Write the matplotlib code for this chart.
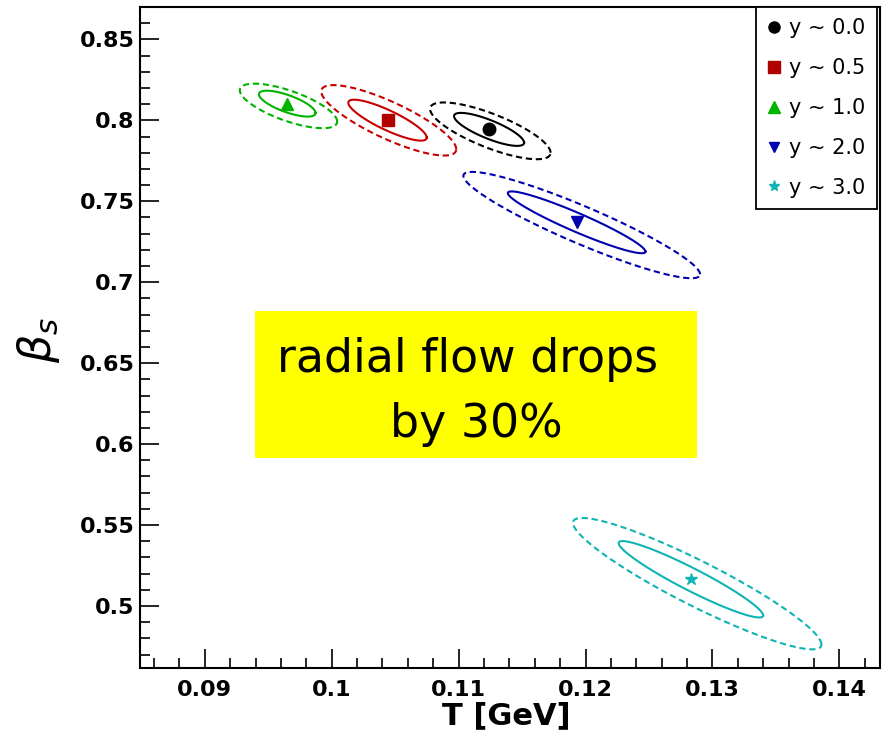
import numpy as np
import matplotlib.pyplot as plt
from matplotlib.lines import Line2D
from matplotlib.patches import Rectangle
from matplotlib.ticker import MultipleLocator, FuncFormatter

# blast-wave fit results per rapidity bin: best fit point and contour shape
rap_labels = ['y ~ 0.0', 'y ~ 0.5', 'y ~ 1.0', 'y ~ 2.0', 'y ~ 3.0']
T_fit = [0.1124, 0.1044, 0.0965, 0.1193, 0.1283]
beta_fit = [0.7944, 0.8001, 0.8103, 0.7370, 0.5165]
sig_T = [0.00276, 0.00309, 0.00223, 0.00542, 0.00569]
sig_beta = [0.0102, 0.01265, 0.0080, 0.0191, 0.0236]
rho_inner = [-0.80, -0.85, -0.72, -0.945, -0.945]
rho_outer = [-0.77, -0.82, -0.70, -0.925, -0.925]
# outer contour is slightly off-centre (non-gaussian chi2 surface)
dT_outer = [0.0001, 0.0001, 0.0001, 0.0004, 0.0005]
dbeta_outer = [-0.0009, -0.0001, -0.0014, -0.0017, -0.0027]
outer_scale = 1.72

line_colors = ['#000000', '#c80000', '#00b400', '#0000b0', '#10b4b4']
mark_colors = ['#000000', '#b00000', '#00b400', '#0000b0', '#10b4b4']
markers = ['o', 's', '^', 'v', '*']
msizes = [9, 9, 9, 8, 9]


def contour(i, k, r, dx=0.0, dy=0.0):
    t = np.linspace(0, 2 * np.pi, 300)
    x = T_fit[i] + dx + k * sig_T[i] * np.cos(t)
    y = beta_fit[i] + dy + k * sig_beta[i] * (r * np.cos(t) + np.sqrt(1 - r ** 2) * np.sin(t))
    return x, y


fig = plt.figure(figsize=(8.85, 7.4), dpi=100)
ax = fig.add_axes([140 / 885, 1 - 668 / 740, 740 / 885, 661 / 740])

for i in range(len(rap_labels)):
    xi, yi = contour(i, 1.0, rho_inner[i])
    ax.plot(xi, yi, color=line_colors[i], lw=1.5)
    xo, yo = contour(i, outer_scale, rho_outer[i], dT_outer[i], dbeta_outer[i])
    ax.plot(xo, yo, color=line_colors[i], lw=1.5, dashes=(3, 1.8))
    ax.plot(T_fit[i], beta_fit[i], marker=markers[i], ms=msizes[i],
            color=mark_colors[i], ls='none', zorder=5)

ax.set_xlim(0.0849, 0.1432)
ax.set_ylim(0.4617, 0.870)

ax.xaxis.set_major_locator(MultipleLocator(0.01))
ax.xaxis.set_minor_locator(MultipleLocator(0.002))
ax.yaxis.set_major_locator(MultipleLocator(0.05))
ax.yaxis.set_minor_locator(MultipleLocator(0.01))
fmt = FuncFormatter(lambda v, p: f'{v:g}')
ax.xaxis.set_major_formatter(fmt)
ax.yaxis.set_major_formatter(fmt)

ax.tick_params(which='both', direction='in', top=False, right=False, width=1.2)
ax.tick_params(which='major', length=14)
ax.tick_params(which='minor', length=7.5)
ax.tick_params(axis='x', pad=9)
ax.tick_params(axis='y', pad=4)
for lab in ax.get_xticklabels() + ax.get_yticklabels():
    lab.set_fontsize(16)
    lab.set_fontweight('bold')
for sp in ax.spines.values():
    sp.set_linewidth(1.5)

fig.text(506 / 885, 1 - 716 / 740, 'T [GeV]', fontsize=22, fontweight='bold',
         ha='center', va='center')
fig.text(38 / 885, 1 - 340 / 740, r'$\beta_s$', fontsize=32, rotation=90,
         ha='center', va='center')

# legend with marker-only entries
handles = [Line2D([], [], marker=markers[i], ms=msizes[i] - 1, color=mark_colors[i], ls='none')
           for i in range(len(rap_labels))]
leg = ax.legend(handles, rap_labels, loc='upper right',
                bbox_to_anchor=(877 / 885, 1 - 7 / 740), bbox_transform=fig.transFigure,
                fontsize=15, frameon=True, fancybox=False, framealpha=1,
                edgecolor='black', borderpad=0.55, labelspacing=0.95,
                handlelength=0.6, handletextpad=0.45, borderaxespad=0, numpoints=1)
leg.get_frame().set_linewidth(1.3)

# highlighted annotation box
fig.patches.append(Rectangle((255 / 885, 1 - 458 / 740), 442 / 885, 147 / 740,
                             transform=fig.transFigure, facecolor='#ffff00',
                             edgecolor='none', zorder=3))
fig.text(468 / 885, 1 - 372 / 740, 'radial flow drops', fontsize=33,
         ha='center', va='baseline', zorder=4)
fig.text(476 / 885, 1 - 437 / 740, 'by 30%', fontsize=33,
         ha='center', va='baseline', zorder=4)

fig.savefig('out.png', dpi=100)
